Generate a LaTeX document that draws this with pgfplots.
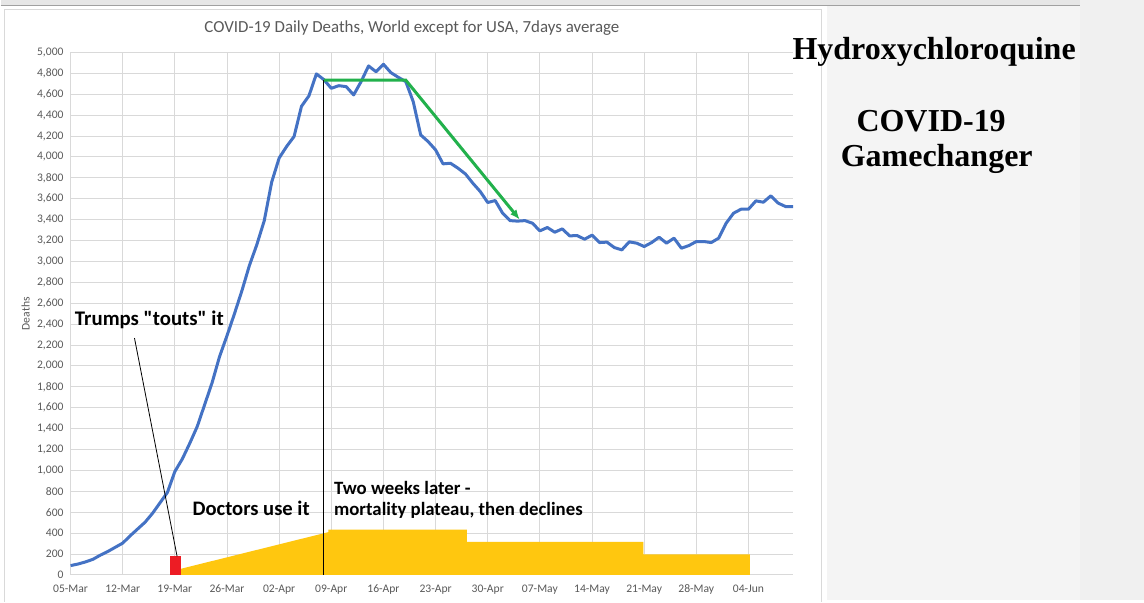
\documentclass[border=0pt]{standalone}
\usepackage{pgfplots}
\pgfplotsset{compat=1.18}
\usepackage{fontspec}
\setmainfont{Carlito}
\newfontfamily\timesfont{Liberation Serif}
\usetikzlibrary{arrows.meta}
\definecolor{lineblue}{HTML}{4472C4}
\definecolor{arrgreen}{HTML}{22B14C}
\definecolor{barred}{HTML}{ED1C24}
\definecolor{baryellow}{HTML}{FFC70F}
\definecolor{txtgray}{HTML}{595959}
\definecolor{gridgray}{HTML}{D9D9D9}
\begin{document}
\begin{tikzpicture}
% window background
\fill[fill={rgb,255:red,240;green,240;blue,240}] (0,0) rectangle (572pt,300pt);
\fill[white] (0,0) rectangle (540pt,297pt);
\fill[fill={rgb,255:red,230;green,230;blue,230}] (0,297.3pt) rectangle (540pt,300pt);
\draw[draw={rgb,255:red,160;green,160;blue,160},line width=0.6pt] (0,297.3pt) -- (540pt,297.3pt);
\fill[fill={rgb,255:red,244;green,244;blue,244}] (413.5pt,0) rectangle (540pt,297pt);
\draw[gridgray,line width=0.5pt] (1.75pt,-1pt) -- (1.75pt,295.3pt) -- (410.85pt,295.3pt) -- (410.85pt,-1pt);
\useasboundingbox (0,0) rectangle (572pt,300pt);

\begin{axis}[
  scale only axis,
  width=361.5pt, height=261.4pt,
  at={(35pt,12.35pt)}, anchor=south west,
  xmin=0, xmax=97, ymin=0, ymax=5000,
  axis line style={draw=none},
  major tick length=0pt,
  grid=major,
  grid style={gridgray,line width=0.5pt},
  xtick={0,7,...,91},
  xticklabels={05-Mar,12-Mar,19-Mar,26-Mar,02-Apr,09-Apr,16-Apr,23-Apr,30-Apr,07-May,14-May,21-May,28-May,04-Jun},
  ytick={0,200,...,5000},
  /pgf/number format/assume math mode=true,
  /pgf/number format/1000 sep={,},
  tick label style={txtgray,font=\fontsize{5.8}{7}\selectfont},
  xticklabel style={yshift=-1.2pt,text height=4.2pt,text depth=1.2pt},
  ylabel={Deaths},
  every axis y label/.style={at={(axis description cs:0,0.5)},xshift=-22.5pt,rotate=90,anchor=center,font=\fontsize{5.8}{7}\selectfont,txtgray},
  clip=false,
]
% yellow area
\addplot[draw=none,fill=baryellow] coordinates {
  (14.85,60) (34.6,410) (34.6,433) (53.2,433) (53.2,318) (76.9,318) (76.9,197) (91.2,197)
} \closedcycle;
% red bar
\addplot[draw=none,fill=barred] coordinates {
  (13.4,185) (14.85,185)
} \closedcycle;
% daily deaths, 7-day average
\addplot[lineblue,line width=1.5pt,line join=round] coordinates {
(0,90) (1,105) (2,125) (3,150) (4,190) (5,225) (6,265) (7,305) (8,375) (9,440)
(10,505) (11,590) (12,690) (13,790) (14,990) (15,1110) (16,1260) (17,1420) (18,1630) (19,1840)
(20,2090) (21,2290) (22,2500) (23,2720) (24,2960) (25,3160) (26,3390) (27,3760) (28,3990) (29,4100)
(30,4195) (31,4485) (32,4585) (33,4795) (34,4740) (35,4657) (36,4682) (37,4673) (38,4594) (39,4721)
(40,4871) (41,4816) (42,4887) (43,4807) (44,4762) (45,4721) (46,4529) (47,4211) (48,4147) (49,4068)
(50,3934) (51,3940) (52,3893) (53,3838) (54,3749) (55,3669) (56,3564) (57,3583) (58,3462) (59,3391)
(60,3386) (61,3391) (62,3366) (63,3293) (64,3325) (65,3280) (66,3312) (67,3245) (68,3248) (69,3213)
(70,3252) (71,3181) (72,3185) (73,3133) (74,3111) (75,3188) (76,3175) (77,3143) (78,3181) (79,3232)
(80,3175) (81,3223) (82,3127) (83,3152) (84,3191) (85,3191) (86,3181) (87,3223) (88,3366) (89,3462)
(90,3500) (91,3500) (92,3580) (93,3567) (94,3628) (95,3558) (96,3525) (97,3525)
};
% annotation lines
\addplot[black,line width=0.5pt] coordinates {(34,0) (34,4735)};
\addplot[black,line width=0.4pt] coordinates {(8.58,2267) (14.3,178)};
\addplot[arrgreen,line width=1.5pt,-{Latex[length=5pt,width=4pt]}] coordinates {(34,4735) (45,4735) (60.3,3400)};

\node[anchor=west,inner sep=0pt,font=\fontsize{10.4}{12}\selectfont\bfseries] at (axis cs:0.54,2442) {Trumps \textquotedbl touts\textquotedbl\ it};
\node[anchor=west,inner sep=0pt,font=\fontsize{10.3}{12}\selectfont\bfseries] at (axis cs:16.33,634) {Doctors use it};
\node[anchor=west,inner sep=0pt,font=\fontsize{9.4}{11}\selectfont\bfseries] at (axis cs:35.32,835) {Two weeks later -};
\node[anchor=west,inner sep=0pt,font=\fontsize{9.4}{11}\selectfont\bfseries] at (axis cs:35.32,618) {mortality plateau, then declines};
\end{axis}

\node[txtgray,font=\fontsize{8.45}{10}\selectfont] at (205.75pt,286pt) {COVID-19 Daily Deaths, World except for USA, 7days average};
\node[anchor=base,font=\timesfont\fontsize{16}{19}\selectfont\bfseries] at (467pt,270pt) {Hydroxychloroquine};
\node[anchor=base,font=\timesfont\fontsize{16}{19}\selectfont\bfseries] at (465.5pt,234.2pt) {COVID-19};
\node[anchor=base,font=\timesfont\fontsize{16}{19}\selectfont\bfseries] at (468.3pt,216.7pt) {Gamechanger};
\end{tikzpicture}
\end{document}
